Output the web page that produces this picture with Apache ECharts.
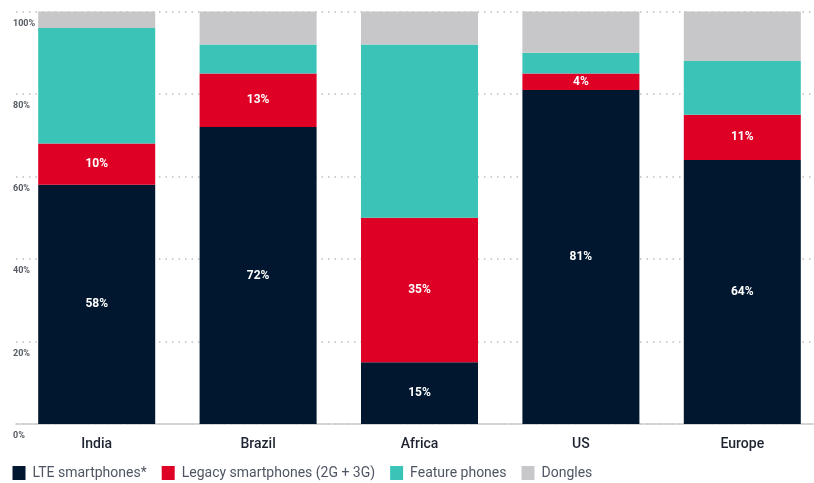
<!DOCTYPE html>
<html>
<head>
<meta charset="utf-8">
<script src="https://cdn.jsdelivr.net/npm/echarts@6/dist/echarts.min.js"></script>
<style>
  html, body { margin: 0; padding: 0; background: #ffffff; }
  #chart { width: 814px; height: 483px; }
</style>
</head>
<body>
<div id="chart"></div>
<script>
// Device share by region (percent of connections)
const regions = ['India', 'Brazil', 'Africa', 'US', 'Europe'];
const lteSmartphones = [58, 72, 15, 81, 64];
const legacySmartphones = [10, 13, 35, 4, 11];
const featurePhones = [28, 7, 42, 5, 13];
const dongles = [4, 8, 8, 10, 12];
const yTicks = [0, 20, 40, 60, 80, 100];

const seriesNames = ['LTE smartphones*', 'Legacy smartphones (2G + 3G)', 'Feature phones', 'Dongles'];
const seriesColors = ['#01172f', '#de0025', '#39c4b7', '#c7c7c9'];
const seriesData = [lteSmartphones, legacySmartphones, featurePhones, dongles];
const labelled = [true, true, false, false];

const chart = echarts.init(document.getElementById('chart'), null, { renderer: 'canvas' });

chart.setOption({
  animation: false,
  backgroundColor: '#ffffff',
  // plot band runs slightly past the right edge so the last bar sits where it should
  grid: {
    left: 16, width: 807, top: 11.5, height: 412.5,
    containLabel: false,
    outerBoundsMode: 'none'
  },
  legend: {
    left: 12.5,
    top: 466,
    padding: 0,
    itemWidth: 13,
    itemHeight: 14,
    itemGap: 15,
    icon: 'rect',
    data: seriesNames,
    textStyle: {
      fontFamily: 'Roboto',
      fontSize: 14,
      color: '#4f5663',
      padding: [0, 0, 0, 2]
    }
  },
  xAxis: {
    type: 'category',
    data: regions,
    axisTick: { show: false },
    axisLine: { show: true, lineStyle: { color: '#cbcbcb', width: 1.5 } },
    axisLabel: {
      margin: 13,
      fontFamily: 'Roboto',
      fontSize: 14,
      fontWeight: 500,
      color: '#1d2330'
    }
  },
  yAxis: {
    type: 'value',
    min: yTicks[0],
    max: yTicks[yTicks.length - 1],
    interval: yTicks[1] - yTicks[0],
    axisLine: { show: false },
    axisTick: { show: false },
    splitLine: {
      show: true,
      lineStyle: { color: '#bdbdbd', width: 1.5, type: [1.5, 5] }
    },
    axisLabel: {
      inside: true,
      margin: -3,
      align: 'left',
      verticalAlign: 'top',
      padding: [7.5, 0, 0, 0],
      fontFamily: 'Roboto',
      fontSize: 9,
      fontWeight: 'bold',
      color: '#555a62',
      formatter: v => v + '%'
    }
  },
  series: seriesNames.map((name, i) => ({
    name: name,
    type: 'bar',
    stack: 'share',
    barWidth: 117,
    data: seriesData[i],
    itemStyle: { color: seriesColors[i] },
    label: {
      show: labelled[i],
      position: 'inside',
      color: '#ffffff',
      fontFamily: 'Roboto',
      fontSize: 12,
      fontWeight: 'bold',
      formatter: p => p.value + '%'
    }
  }))
});
</script>
</body>
</html>
